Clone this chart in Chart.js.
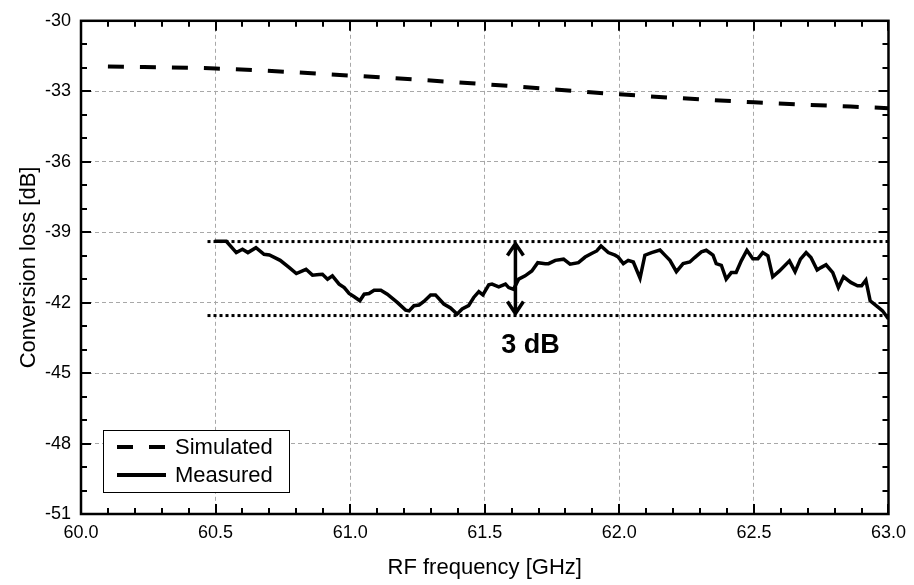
<!DOCTYPE html>
<html>
<head>
<meta charset="utf-8">
<title>Conversion loss vs RF frequency</title>
<script src="https://cdn.jsdelivr.net/npm/chart.js"></script>
<style>
  html, body { margin: 0; padding: 0; background: #fff; }
  #wrap { width: 914px; height: 585px; }
</style>
</head>
<body>
<div id="wrap"><canvas id="lossChart" width="914" height="585"></canvas></div>
<script>
// Simulated conversion loss (dB)
const simFreq = [60.1, 60.5, 61.0, 61.5, 62.0, 62.5, 63.0];
const simLoss = [-31.95, -32.03, -32.33, -32.7, -33.13, -33.47, -33.72];

// Measured conversion loss (dB)
const measFreq = [
  60.496, 60.54, 60.577, 60.60, 60.62, 60.65, 60.68, 60.70, 60.74, 60.774,
  60.80, 60.836, 60.86, 60.885, 60.897, 60.916, 60.934, 60.959, 60.978, 60.996,
  61.015, 61.036, 61.052, 61.07, 61.089, 61.114, 61.138, 61.175, 61.206, 61.219,
  61.237, 61.256, 61.274, 61.299, 61.317, 61.348, 61.373, 61.397, 61.416, 61.44,
  61.459, 61.478, 61.493, 61.515, 61.527, 61.552, 61.577, 61.589, 61.607, 61.626,
  61.65, 61.675, 61.697, 61.725, 61.737, 61.762, 61.793, 61.817, 61.848, 61.873,
  61.897, 61.916, 61.932, 61.959, 61.984, 61.996, 62.015, 62.033, 62.052, 62.077,
  62.095, 62.12, 62.151, 62.172, 62.188, 62.212, 62.237, 62.262, 62.28, 62.305,
  62.323, 62.348, 62.36, 62.379, 62.397, 62.416, 62.434, 62.453, 62.474, 62.496,
  62.515, 62.533, 62.552, 62.57, 62.595, 62.632, 62.653, 62.673, 62.694, 62.712,
  62.735, 62.749, 62.768, 62.793, 62.814, 62.833, 62.86, 62.885, 62.9, 62.916,
  62.932, 62.96, 62.978, 63.0
];
const measLoss = [
  -39.39, -39.39, -39.87, -39.73, -39.87, -39.66, -39.94, -39.97, -40.2, -40.51,
  -40.76, -40.58, -40.83, -40.8, -40.79, -41.0, -40.86, -41.21, -41.36, -41.61,
  -41.75, -41.92, -41.64, -41.61, -41.47, -41.47, -41.64, -41.99, -42.32, -42.35,
  -42.13, -42.10, -41.95, -41.67, -41.67, -42.06, -42.23, -42.49, -42.27, -42.13,
  -41.78, -41.53, -41.67, -41.24, -41.21, -41.33, -41.21, -41.36, -41.43, -41.0,
  -40.86, -40.65, -40.30, -40.34, -40.34, -40.2, -40.15, -40.36, -40.3, -40.06,
  -39.91, -39.8, -39.59, -39.87, -39.98, -40.06, -40.34, -40.2, -40.27, -40.96,
  -39.98, -39.87, -39.76, -40.01, -40.2, -40.68, -40.34, -40.27, -40.08, -39.84,
  -39.77, -39.98, -40.34, -40.41, -41.0, -40.72, -40.72, -40.22, -39.77, -40.13,
  -40.13, -39.87, -40.01, -40.9, -40.65, -40.22, -40.68, -40.15, -39.87, -40.08,
  -40.61, -40.51, -40.39, -40.72, -41.36, -40.9, -41.14, -41.28, -41.28, -41.04,
  -41.92, -42.18, -42.35, -42.7
];

// dotted reference levels and the 3 dB marker
const refLevels = [-39.4, -42.55];
const refFreqRange = [60.47, 63.0];
const arrowFreq = 61.614;
const spanLabel = '3 dB';
const spanLabelAt = [61.67, -43.83];

const xTicks = [60.0, 60.5, 61.0, 61.5, 62.0, 62.5, 63.0];
const yTicks = [-51, -48, -45, -42, -39, -36, -33, -30];

const FONT = '"Liberation Sans", Arial, Helvetica, sans-serif';

function pts(xs, ys) {
  return xs.map((x, i) => ({ x: x, y: ys[i] }));
}

const datasets = [
  {
    label: 'Simulated',
    data: pts(simFreq, simLoss),
    borderColor: '#000',
    borderWidth: 4,
    borderDash: [16, 16],
    pointRadius: 0,
    cubicInterpolationMode: 'monotone'
  },
  {
    label: 'Measured',
    data: pts(measFreq, measLoss),
    borderColor: '#000',
    borderWidth: 3.5,
    pointRadius: 0,
    tension: 0
  }
];
refLevels.forEach(lv => {
  datasets.push({
    label: '',
    data: pts(refFreqRange, [lv, lv]),
    borderColor: '#000',
    borderWidth: 3,
    borderDash: [3, 3],
    pointRadius: 0
  });
});

// frame, inward tick marks, arrow, label, legend
const decorations = {
  id: 'decorations',
  afterDatasetsDraw(chart) {
    const ctx = chart.ctx;
    const a = chart.chartArea;
    const xs = chart.scales.x, ys = chart.scales.y;
    ctx.save();
    ctx.strokeStyle = '#000';
    ctx.fillStyle = '#000';

    // ticks
    ctx.lineWidth = 2;
    ctx.beginPath();
    for (let i = 0; i <= 30; i++) {
      const v = 60 + i * 0.1;
      const px = Math.round(xs.getPixelForValue(v));
      const len = i % 5 === 0 ? 10 : 6;
      ctx.moveTo(px, a.bottom); ctx.lineTo(px, a.bottom - len);
      ctx.moveTo(px, a.top); ctx.lineTo(px, a.top + len);
    }
    for (let v = -51; v <= -30; v++) {
      const py = Math.round(ys.getPixelForValue(v));
      const len = v % 3 === 0 ? 10 : 6;
      ctx.moveTo(a.left, py); ctx.lineTo(a.left + len, py);
      ctx.moveTo(a.right, py); ctx.lineTo(a.right - len, py);
    }
    ctx.stroke();

    // frame
    ctx.lineWidth = 2.5;
    ctx.strokeRect(a.left, a.top, a.right - a.left, a.bottom - a.top);

    // double arrow
    const ax = xs.getPixelForValue(arrowFreq);
    const y1 = ys.getPixelForValue(refLevels[0]);
    const y2 = ys.getPixelForValue(refLevels[1]);
    ctx.lineWidth = 3.5;
    ctx.setLineDash([]);
    ctx.lineJoin = 'miter';
    ctx.beginPath();
    ctx.moveTo(ax, y1 + 2); ctx.lineTo(ax, y2 - 2);
    ctx.moveTo(ax - 8, y1 + 14); ctx.lineTo(ax, y1 + 2); ctx.lineTo(ax + 8, y1 + 14);
    ctx.moveTo(ax - 8, y2 - 14); ctx.lineTo(ax, y2 - 2); ctx.lineTo(ax + 8, y2 - 14);
    ctx.stroke();

    // 3 dB label
    ctx.font = 'bold 27px ' + FONT;
    ctx.textAlign = 'center';
    ctx.textBaseline = 'middle';
    ctx.fillText(spanLabel, xs.getPixelForValue(spanLabelAt[0]), ys.getPixelForValue(spanLabelAt[1]));

    // legend box in lower left
    const items = chart.data.datasets.filter(d => d.label);
    const bx = a.left + 22, bw = 186, rowH = 28;
    const bh = items.length * rowH + 6;
    const by = a.bottom - 22 - bh;
    ctx.fillStyle = '#fff';
    ctx.fillRect(bx, by, bw, bh);
    ctx.lineWidth = 1;
    ctx.strokeStyle = '#000';
    ctx.strokeRect(bx + 0.5, by + 0.5, bw, bh);
    ctx.font = '22px ' + FONT;
    ctx.textAlign = 'left';
    items.forEach((d, i) => {
      const cy = by + 17 + i * rowH;
      ctx.lineWidth = 4;
      ctx.setLineDash(d.borderDash || []);
      ctx.beginPath();
      ctx.moveTo(bx + 14, cy); ctx.lineTo(bx + 63, cy);
      ctx.stroke();
      ctx.setLineDash([]);
      ctx.fillStyle = '#000';
      ctx.fillText(d.label, bx + 72, cy + 1);
    });
    ctx.restore();
  }
};

new Chart(document.getElementById('lossChart'), {
  type: 'line',
  data: { datasets: datasets },
  options: {
    responsive: false,
    animation: false,
    layout: { padding: { top: 19, right: 25, left: 0, bottom: 0 } },
    plugins: { legend: { display: false }, tooltip: { enabled: false } },
    scales: {
      x: {
        type: 'linear',
        min: 60, max: 63,
        afterFit: s => { s.height = 71; },
        afterBuildTicks: s => { s.ticks = xTicks.map(v => ({ value: v })); },
        ticks: {
          color: '#000',
          font: { family: FONT, size: 18 },
          padding: 8,
          maxRotation: 0,
          callback: v => Number(v).toFixed(1)
        },
        grid: { color: '#a8a8a8', lineWidth: 1, drawTicks: false },
        border: { display: false, dash: [4, 3] },
        title: {
          display: true,
          text: 'RF frequency [GHz]',
          color: '#000',
          font: { family: FONT, size: 22 },
          padding: { top: 0, bottom: 4 }
        }
      },
      y: {
        type: 'linear',
        min: -51, max: -30,
        afterFit: s => { s.width = 81; },
        afterBuildTicks: s => { s.ticks = yTicks.map(v => ({ value: v })); },
        ticks: {
          color: '#000',
          font: { family: FONT, size: 18 },
          padding: 10
        },
        grid: { color: '#a8a8a8', lineWidth: 1, drawTicks: false },
        border: { display: false, dash: [4, 3] },
        title: {
          display: true,
          text: 'Conversion loss [dB]',
          color: '#000',
          font: { family: FONT, size: 22 },
          padding: { top: 16, bottom: 0 }
        }
      }
    }
  },
  plugins: [decorations]
});
</script>
</body>
</html>
